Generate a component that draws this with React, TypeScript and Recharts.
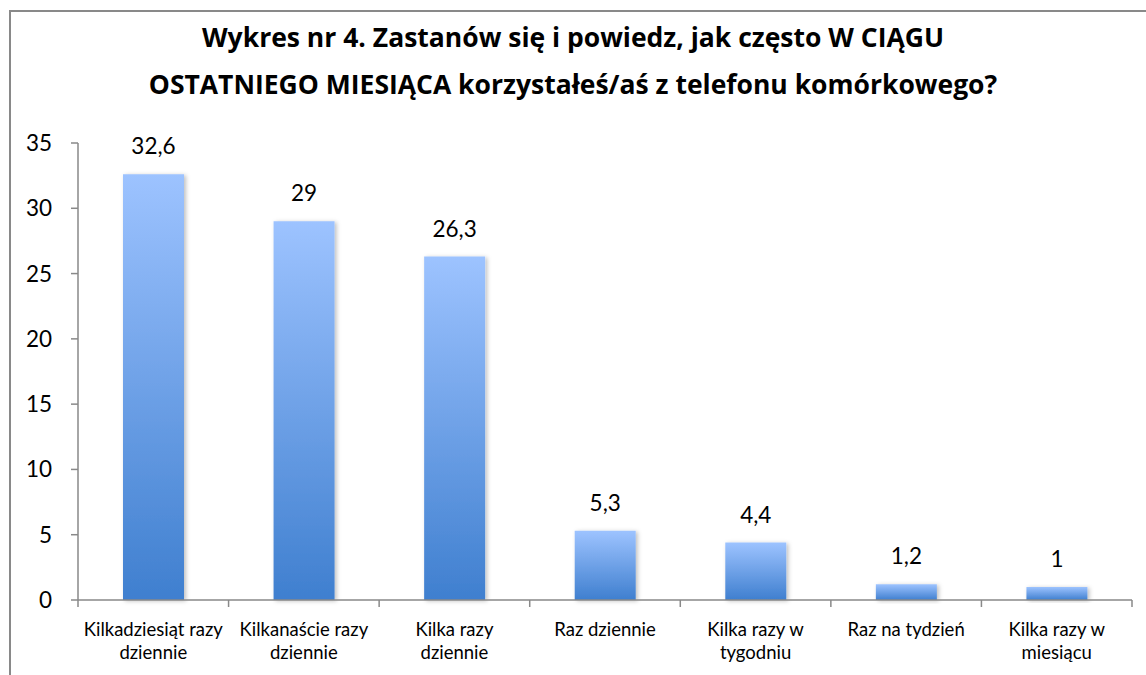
import React from 'react';
import { BarChart, Bar, XAxis, YAxis, LabelList } from 'recharts';

const categories = [
  'Kilkadziesiąt razy dziennie',
  'Kilkanaście razy dziennie',
  'Kilka razy dziennie',
  'Raz dziennie',
  'Kilka razy w tygodniu',
  'Raz na tydzień',
  'Kilka razy w miesiącu',
];
const tickLines: string[][] = [
  ['Kilkadziesiąt razy', 'dziennie'],
  ['Kilkanaście razy', 'dziennie'],
  ['Kilka razy', 'dziennie'],
  ['Raz dziennie'],
  ['Kilka razy w', 'tygodniu'],
  ['Raz na tydzień'],
  ['Kilka razy w', 'miesiącu'],
];
const values = [32.6, 29, 26.3, 5.3, 4.4, 1.2, 1];
const yTicks = [0, 5, 10, 15, 20, 25, 30, 35];
const titleLines = [
  'Wykres nr 4. Zastanów się i powiedz, jak często W CIĄGU',
  'OSTATNIEGO MIESIĄCA korzystałeś/aś z telefonu komórkowego?',
];

const data = categories.map((c, i) => ({ name: c, value: values[i], idx: i }));

const FONT = 'Lato, "Open Sans", sans-serif';
const TITLE_FONT = '"Open Sans", Lato, sans-serif';
const AXIS = '#898989';
const PLOT_W = 1132 - 78;

const CatTick = (props: any) => {
  const { x, y, payload, index } = props;
  const off = payload && payload.offset ? payload.offset : PLOT_W / 14;
  const i = typeof index === 'number' ? index : payload.index;
  const lines = tickLines[i] || [String(payload.value)];
  return (
    <g>
      <line x1={x - off} y1={y} x2={x - off} y2={y + 7} stroke={AXIS} strokeWidth={1.5} />
      {i === categories.length - 1 && (
        <line x1={x + off} y1={y} x2={x + off} y2={y + 7} stroke={AXIS} strokeWidth={1.5} />
      )}
      {lines.map((l, k) => (
        <text key={k} x={x} y={y + 36 + k * 23} textAnchor="middle" fontSize={18.5} fill="#000" fontFamily={FONT}>
          {l}
        </text>
      ))}
    </g>
  );
};

export default function App() {
  return (
    <div style={{ position: 'absolute', left: 0, top: 0, width: 1146, height: 675, background: '#fff', overflow: 'hidden' }}>
      <div style={{ position: 'absolute', left: 9, top: 10, width: 1140, height: 680, border: `2px solid ${AXIS}`, boxSizing: 'border-box' }} />
      {titleLines.map((t, i) => (
        <div
          key={i}
          style={{
            position: 'absolute', left: 0, width: 1146, top: 22 + i * 47, textAlign: 'center',
            fontFamily: TITLE_FONT, fontWeight: 700, fontSize: 26.5, color: '#000', lineHeight: '30px',
            whiteSpace: 'nowrap',
          }}
        >
          {t}
        </div>
      ))}
      <div style={{ position: 'absolute', left: 0, top: 0 }}>
        <BarChart width={1146} height={675} data={data} margin={{ top: 143, right: 14, bottom: 0, left: 18 }}>
          <defs>
            <linearGradient id="barGrad" x1="0" y1="0" x2="0" y2="1">
              <stop offset="0%" stopColor="#9DC3FF" />
              <stop offset="100%" stopColor="#3F7FCF" />
            </linearGradient>
            <filter id="shadow" x="-20%" y="-20%" width="140%" height="140%">
              <feDropShadow dx="2" dy="1" stdDeviation="2" floodColor="#000" floodOpacity="0.25" />
            </filter>
          </defs>
          <YAxis
            width={60}
            domain={[0, 35]}
            ticks={yTicks}
            interval={0}
            tickSize={7}
            tickMargin={19}
            axisLine={{ stroke: AXIS, strokeWidth: 1.5 }}
            tickLine={{ stroke: AXIS, strokeWidth: 1.5 }}
            tick={{ fontSize: 22.5, fill: '#000', fontFamily: FONT }}
          />
          <XAxis
            dataKey="name"
            height={75}
            interval={0}
            tickSize={0}
            tickMargin={0}
            tickLine={false}
            axisLine={{ stroke: AXIS, strokeWidth: 1.5 }}
            tick={<CatTick />}
          />
          <Bar dataKey="value" barSize={61} fill="url(#barGrad)" filter="url(#shadow)" isAnimationActive={false}>
            <LabelList
              dataKey="value"
              position="top"
              offset={20}
              fontSize={22.5}
              fill="#000"
              fontFamily={FONT}
              formatter={(v: any) => String(v).replace('.', ',')}
            />
          </Bar>
        </BarChart>
      </div>
    </div>
  );
}
